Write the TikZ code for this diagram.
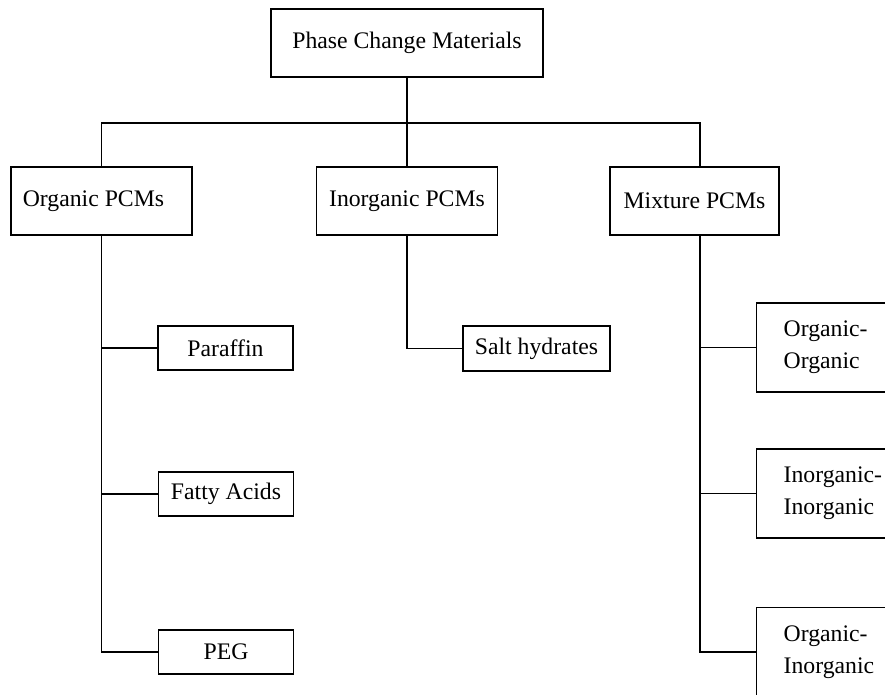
\documentclass[tikz,border=0pt]{standalone}
\usepackage{fontspec}
\setmainfont{Liberation Serif}

\begin{document}
\begin{tikzpicture}[x=0.75pt,y=-0.75pt,line width=1pt,
  font=\fontsize{17.8}{24}\selectfont,
  box/.style={draw,rectangle,inner sep=0pt,align=center},
  topbox/.style={box,minimum width=204pt,minimum height=51pt},
  catbox/.style={box,minimum width=135.75pt,minimum height=51pt},
  leafbox/.style={box,minimum width=101.25pt,minimum height=33pt},
  mixbox/.style={draw,rectangle,anchor=west,align=left,text width=78pt,
    inner xsep=20.25pt,inner ysep=0pt,minimum height=66.75pt}]

  \clip (0,0) rectangle (885,695);

  \node[topbox] (pcm) at (407,43) {Phase Change Materials};

  \node[catbox] (org) at (101.5,201) {Organic PCMs\hspace*{12pt}};
  \node[catbox] (inorg) at (407,201) {Inorganic PCMs};
  \node[catbox,minimum width=126.75pt] (mix) at (694.5,201) {Mixture PCMs};

  % organic leaves
  \node[leafbox] (paraffin) at (225.5,348) {Paraffin};
  \node[leafbox] (fatty) at (226,494) {Fatty Acids};
  \node[leafbox] (peg) at (226,652) {PEG};

  % inorganic leaf
  \node[leafbox,minimum width=110.25pt,minimum height=33.75pt] (salt) at (536.5,348.5) {Salt hydrates};

  % mixture leaves
  \node[mixbox] (oo) at (756,347.5) {Organic-\\Organic};
  \node[mixbox] (ii) at (756,493.5) {Inorganic-\\Inorganic};
  \node[mixbox] (oi) at (756,652) {Organic-\\Inorganic};

  \coordinate (bus) at (407,123);
  \coordinate (mixtop) at (700,167);
  \coordinate (mixbot) at (700,235);

  % top level bus
  \draw (pcm.south) -- (inorg.north);
  \draw (org.north) -- (org.north |- bus) -- (mixtop |- bus) -- (mixtop);

  % branches
  \draw (org.south) |- (paraffin.west);
  \draw (org.south) |- (fatty.west);
  \draw (org.south) |- (peg.west);
  \draw (inorg.south) |- (salt.west);
  \draw (mixbot) |- (oo.west);
  \draw (mixbot) |- (ii.west);
  \draw (mixbot) |- (oi.west);

\end{tikzpicture}
\end{document}
